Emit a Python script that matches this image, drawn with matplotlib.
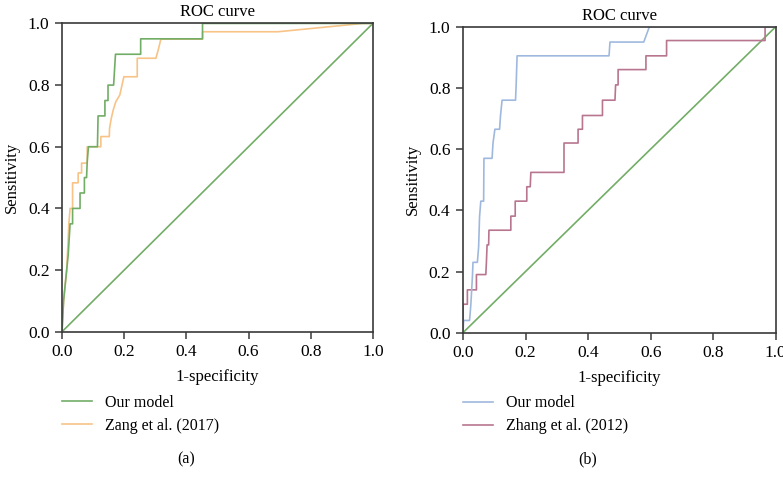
import matplotlib
matplotlib.use("Agg")
import matplotlib.pyplot as plt

plt.rcParams['font.family'] = ['Liberation Serif', 'DejaVu Serif']
plt.rcParams['font.size'] = 11.5

# (a) Our model vs Zang et al. (2017)
a_our_fpr = [0, 0.005, 0.01, 0.015, 0.02, 0.026, 0.034, 0.034, 0.058, 0.058, 0.072, 0.072,
             0.079, 0.081, 0.085, 0.114, 0.116, 0.138, 0.138, 0.148, 0.148, 0.166, 0.169,
             0.172, 0.253, 0.253, 0.452, 0.452, 1.0]
a_our_tpr = [0, 0.1, 0.15, 0.2, 0.25, 0.35, 0.35, 0.40, 0.40, 0.45, 0.45, 0.50,
             0.50, 0.55, 0.60, 0.60, 0.70, 0.70, 0.75, 0.75, 0.80, 0.80, 0.85,
             0.90, 0.90, 0.95, 0.95, 1.0, 1.0]

a_zang_fpr = [0, 0.005, 0.01, 0.015, 0.022, 0.026, 0.034, 0.034, 0.052, 0.052, 0.063, 0.063,
              0.081, 0.081, 0.125, 0.125, 0.152, 0.153, 0.158, 0.165, 0.173, 0.186,
              0.199, 0.242, 0.242, 0.302, 0.31, 0.318, 0.452, 0.452, 0.695, 0.968, 1.0]
a_zang_tpr = [0, 0.1, 0.15, 0.2, 0.35, 0.40, 0.40, 0.483, 0.483, 0.515, 0.515, 0.547,
              0.547, 0.60, 0.60, 0.633, 0.633, 0.66, 0.69, 0.72, 0.746, 0.768,
              0.827, 0.827, 0.887, 0.887, 0.916, 0.949, 0.949, 0.973, 0.973, 1.0, 1.0]

# (b) Our model vs Zhang et al. (2012)
b_our_fpr = [0, 0.002, 0.021, 0.025, 0.03, 0.032, 0.046, 0.05, 0.053, 0.057, 0.066, 0.067,
             0.093, 0.096, 0.102, 0.117, 0.12, 0.125, 0.168, 0.17, 0.173, 0.467, 0.47,
             0.578, 0.596, 1.0]
b_our_tpr = [0, 0.04, 0.04, 0.09, 0.18, 0.23, 0.23, 0.28, 0.38, 0.43, 0.43, 0.57,
             0.57, 0.62, 0.665, 0.665, 0.71, 0.76, 0.76, 0.81, 0.905, 0.905, 0.95,
             0.95, 1.0, 1.0]

b_zhang_fpr = [0, 0, 0.014, 0.014, 0.043, 0.043, 0.073, 0.075, 0.077, 0.082, 0.083, 0.153,
               0.153, 0.167, 0.167, 0.204, 0.204, 0.215, 0.217, 0.323, 0.323, 0.368, 0.368,
               0.382, 0.382, 0.446, 0.446, 0.486, 0.488, 0.496, 0.496, 0.585, 0.585, 0.651,
               0.651, 0.966, 0.966, 1.0]
b_zhang_tpr = [0, 0.093, 0.093, 0.14, 0.14, 0.19, 0.19, 0.232, 0.287, 0.287, 0.335, 0.335,
               0.381, 0.381, 0.43, 0.43, 0.477, 0.477, 0.524, 0.524, 0.62, 0.62, 0.665,
               0.665, 0.71, 0.71, 0.76, 0.76, 0.81, 0.81, 0.86, 0.86, 0.905, 0.905,
               0.955, 0.955, 1.0, 1.0]

green = '#72ad66'
orange = '#f8c387'
blue = '#9fb9de'
pink = '#b8758f'
spine_col = '#3a3a3a'

ticks = [0.0, 0.2, 0.4, 0.6, 0.8, 1.0]
tick_labels = ['0.0', '0.2', '0.4', '0.6', '0.8', '1.0']

fig = plt.figure(figsize=(7.83, 4.78), dpi=100)
ax1 = fig.add_axes([0.0792, 0.306, 0.397, 0.645])
ax2 = fig.add_axes([0.5913, 0.304, 0.3994, 0.640])

panels = [
    (ax1, a_our_fpr, a_our_tpr, green, 'Our model', a_zang_fpr, a_zang_tpr, orange, 'Zang et al. (2017)', '(a)'),
    (ax2, b_our_fpr, b_our_tpr, blue, 'Our model', b_zhang_fpr, b_zhang_tpr, pink, 'Zhang et al. (2012)', '(b)'),
]

for ax, f1, t1, c1, l1, f2, t2, c2, l2, tag in panels:
    ax.plot([0, 1], [0, 1], color=green, lw=1.2)
    h2, = ax.plot(f2, t2, color=c2, lw=1.2, label=l2)
    h1, = ax.plot(f1, t1, color=c1, lw=1.2, label=l1)
    ax.set_xlim(0, 1)
    ax.set_ylim(0, 1)
    ax.set_xticks(ticks)
    ax.set_xticklabels(tick_labels)
    ax.set_yticks(ticks)
    ax.set_yticklabels(tick_labels)
    ax.tick_params(direction='out', length=5, width=1.1, color=spine_col, pad=4,
                   labelsize=12.5)
    for s in ax.spines.values():
        s.set_color(spine_col)
        s.set_linewidth(1.2)
    ax.set_title('ROC curve', fontsize=12, pad=5)
    ax.set_xlabel('1-specificity', fontsize=12, labelpad=6)
    ax.set_ylabel('Sensitivity', fontsize=12, labelpad=6)
    ax.legend(handles=[h1, h2], loc='upper left', bbox_to_anchor=(0.0, -0.205),
              frameon=False, borderpad=0, borderaxespad=0, handlelength=1.9,
              handletextpad=0.8, labelspacing=0.42, fontsize=11.5)
    ax.text(0.4, -0.415, tag, transform=ax.transAxes, ha='center', va='center',
            fontsize=11.5)

fig.savefig('out.png', dpi=100)
